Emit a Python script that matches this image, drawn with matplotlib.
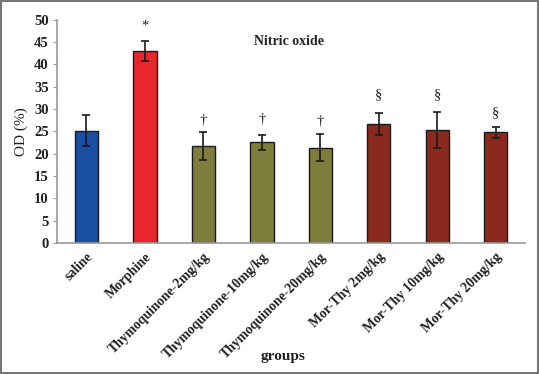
import matplotlib
matplotlib.use("Agg")
import matplotlib.pyplot as plt
from matplotlib.patches import Rectangle

groups = ["saline", "Morphine", "Thymoquinone-2mg/kg", "Thymoquinone-10mg/kg",
          "Thymoquinone-20mg/kg", "Mor-Thy 2mg/kg", "Mor-Thy 10mg/kg", "Mor-Thy 20mg/kg"]
means = [25.2, 43.0, 21.7, 22.6, 21.4, 26.7, 25.4, 24.8]
errors = [3.4, 2.2, 3.1, 1.7, 3.1, 2.5, 4.0, 1.2]
marks = ["", "*", "†", "†", "†", "§", "§", "§"]
mark_y = [None, 48.7, 27.4, 27.7, 27.3, 33.2, 33.2, 29.2]
colors = ["#1a4fa3", "#e8262c", "#7e7d3c", "#7e7d3c", "#7e7d3c",
          "#8a2a1f", "#8a2a1f", "#8a2a1f"]

plt.rcParams['font.family'] = ['Liberation Serif', 'DejaVu Serif']

fig = plt.figure(figsize=(5.39, 3.74), dpi=100)
ax = fig.add_axes([0.106, 0.350, 0.868, 0.597])

x = list(range(len(groups)))
ax.bar(x, means, width=0.4, color=colors, edgecolor="#1a1a1a", linewidth=1.0,
       yerr=errors, error_kw=dict(ecolor="#1a1a1a", elinewidth=1.2, capsize=3, capthick=1.2))

for xi, m, my in zip(x, marks, mark_y):
    if m:
        ax.text(xi, my, m, ha="center", va="center", fontsize=10.5, color="#222222")

ax.set_xlim(-0.5, 7.5)
ax.set_ylim(0, 50)
ax.set_yticks(range(0, 51, 5))
ax.set_xticks(x)
ax.set_xticklabels(groups, rotation=45, ha="right", rotation_mode="anchor",
                   fontsize=9.8, fontweight="bold", color="#222222")
for lab in ax.get_yticklabels():
    lab.set_fontsize(10.5)
    lab.set_fontweight("bold")
    lab.set_color("#222222")
ax.tick_params(axis="x", length=0, pad=5)
ax.tick_params(axis="y", length=3, color="#999999", pad=3)

for s in ["top", "right"]:
    ax.spines[s].set_visible(False)
for s in ["left", "bottom"]:
    ax.spines[s].set_color("#999999")
    ax.spines[s].set_linewidth(1.2)

ax.set_ylabel("OD (%)", fontsize=11, color="#222222", labelpad=4)
fig.text(0.525, 0.048, "groups", ha="center", va="center", fontsize=11,
         fontweight="bold", color="#222222")
ax.text(0.536, 0.889, "Nitric oxide", transform=fig.transFigure, ha="center", va="center",
        fontsize=10, fontweight="bold", color="#222222")

fig.patches.append(Rectangle((0.002, 0.003), 0.996, 0.994, transform=fig.transFigure,
                             fill=False, edgecolor="#777777", linewidth=1.5))

fig.savefig("out.png", dpi=100)
